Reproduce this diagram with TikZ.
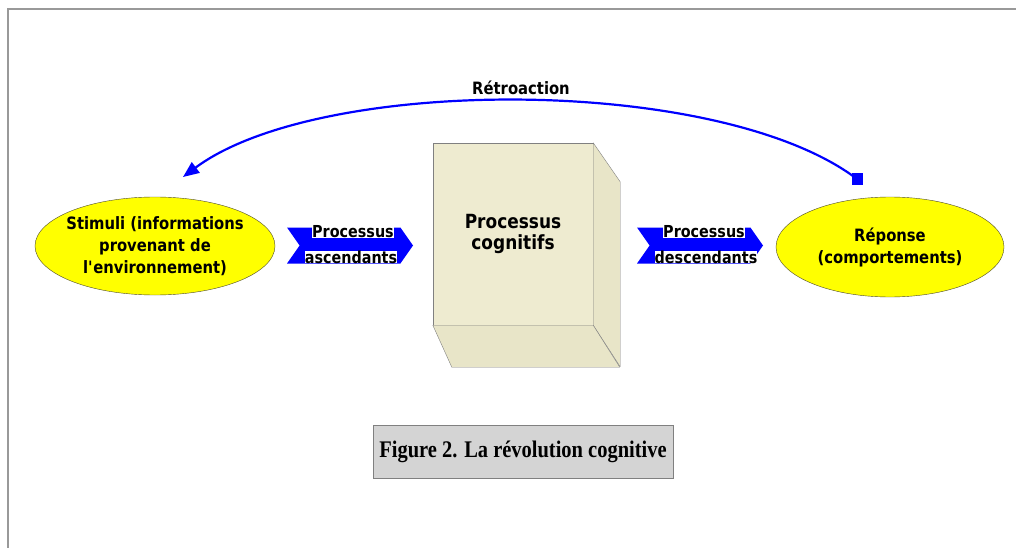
\documentclass[tikz,border=0pt]{standalone}
\usepackage{fontspec}
\setmainfont{DejaVu Sans}[FakeStretch=0.87]
\newfontfamily\capfont{Liberation Serif}[FakeStretch=0.86]
\usetikzlibrary{shapes.geometric,shapes.symbols,arrows.meta}

\definecolor{cubefill}{RGB}{238,235,208}
\definecolor{cubeside}{RGB}{232,229,200}
\definecolor{ovalfill}{RGB}{255,255,0}
\definecolor{capfill}{RGB}{212,212,212}

\tikzset{
  oval/.style={ellipse, draw=black!60!olive, fill=ovalfill, inner sep=-8pt,
    minimum width=240pt, minimum height=98pt, align=center,
    font=\fontsize{17}{22}\selectfont\bfseries},
  chevron/.style={signal, signal from=west, signal to=east,
    signal pointer angle=110, fill=blue, draw=none,
    minimum width=126pt, minimum height=36pt, inner sep=0pt},
  tag/.style={fill=white, inner sep=0pt,
    font=\fontsize{16.5}{16.5}\selectfont\bfseries},
  face/.style={draw=gray, fill=cubeside, line join=round},
}

\begin{document}
\begin{tikzpicture}[x=1pt,y=-1pt]

\useasboundingbox (0,0) rectangle (1016,548);
\fill[white] (0,0) rectangle (1016,548);
\draw[gray!80, line width=1.5pt] (8,548) -- (8,9) -- (1016,9);

\node[oval] (stim) at (155,246) {Stimuli (informations\\provenant de\\l\textquotesingle environnement)};
\node[oval, minimum width=228pt, minimum height=100pt] (resp) at (890,247) {Réponse\\(comportements)};

\node[draw=gray, fill=cubefill, minimum width=160pt, minimum height=182pt, inner sep=0pt,
  align=center, font=\fontsize{19.5}{21}\selectfont\bfseries] (cube) at (513,234) {Processus\\cognitifs};
\draw[face] (cube.north east) -- ++(27,39) -- ++(0,185) -- (cube.south east) -- cycle;
\draw[face] (cube.south west) -- ++(19,42) -- ++(168,0) -- (cube.south east) -- cycle;

\node[chevron] (asc) at (350,245.5) {};
\node[tag] (asc_top) at (353,232) {Processus};
\node[tag] (asc_bot) at (351,257) {ascendants};

\node[chevron] (desc) at (700,245.5) {};
\node[tag] (desc_top) at (704,232) {Processus};
\node[tag] (desc_bot) at (706,257) {descendants};

\node[fill=blue, minimum size=11pt, inner sep=0pt] (fb_start) at (857,179) {};
\coordinate (fb_end) at (183,177);
\draw[blue, line width=2.2pt, -{Triangle[length=16pt,width=13pt]}]
  (fb_start.center) .. controls (720,75) and (320,75) .. (fb_end);
\node[font=\fontsize{17}{17}\selectfont\bfseries] (retro) at (521,88) {Rétroaction};

\node[draw=gray, fill=capfill, minimum width=300pt, minimum height=53pt,
  font=\capfont\fontsize{23.8}{23.8}\selectfont\bfseries] (caption) at (523,451.5) {Figure 2. La révolution cognitive};

\end{tikzpicture}
\end{document}
